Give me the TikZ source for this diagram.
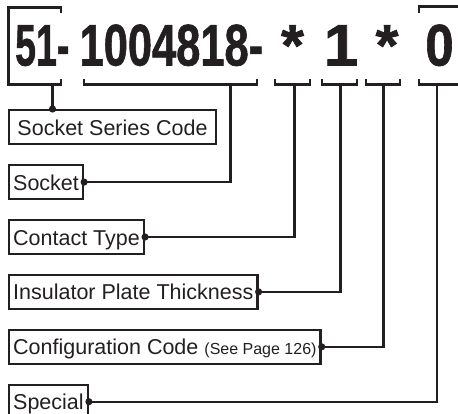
\documentclass[tikz,border=0pt]{standalone}
\usepackage{fontspec}
\setmainfont{Liberation Sans}
\newfontfamily\codefont{Liberation Sans}[BoldFeatures={FakeBold=1.2}]
\usetikzlibrary{positioning, arrows.meta}

\definecolor{ink}{RGB}{35,31,32}

\begin{document}
\begin{tikzpicture}[
    x=1pt, y=-1pt,
    labelbox/.style={
        draw=ink, line width=2.4pt, text=ink,
        anchor=north west,
        inner xsep=4pt, inner ysep=0pt,
        minimum height=34pt,
        text height=16pt, text depth=0pt,
        font=\fontsize{21.5}{24}\selectfont
    },
    digit/.style={inner sep=0pt, anchor=base, text=ink,
        font=\fontsize{58.7}{60}\codefont\bfseries},
    bracket/.style={draw=ink, line width=2.4pt},
    link/.style={draw=ink, line width=2.2pt,
        -{Circle[length=7pt]}, shorten >=-3.5pt}
]
\useasboundingbox (0,0) rectangle (458,413);

% --- Part number ---
\node[digit] (n51)   at (42.3,65.5)  {\scalebox{0.64}[1]{51-}};
\node[digit] (nbase) at (171.4,65.5) {\scalebox{0.74}[1]{1004818-}};
\node[digit] (nast1) at (292.5,65.5) {*};
\node[digit] (none)  at (341,65.5)   {\scalebox{1.05}[1]{1}};
\node[digit] (nast2) at (387,65.5)   {*};
\node[digit] (nzero) at (439.5,65.5) {\scalebox{0.87}[1]{0}};

% --- Brackets ---
\draw[bracket] (61,13) -- (61,7.5) -- (8.5,7.5) -- (8.5,84.5) -- (61,84.5) -- (61,79);
\foreach \l/\r in {84/257, 275/310, 322/357, 366/400}
    \draw[bracket] (\l,79) -- (\l,84.5) -- (\r,84.5) -- (\r,79);
\draw[bracket] (419,79) -- (419,84.5) -- (462,84.5);
\draw[bracket] (419,13) -- (419,6.5) -- (462,6.5);

\coordinate (b1) at (52.5,84.5);
\coordinate (b2) at (230.5,84.5);
\coordinate (b3) at (294.5,84.5);
\coordinate (b4) at (340.5,84.5);
\coordinate (b5) at (383.5,84.5);
\coordinate (b6) at (437,84.5);

% --- Labels ---
\node[labelbox, minimum width=206.6pt] (series) at (8,109) {Socket Series Code};
\node[labelbox, below=18.5pt of series.south west, anchor=north west] (socket) {Socket};
\node[labelbox, below=18.5pt of socket.south west, anchor=north west] (contact) {Contact Type};
\node[labelbox, below=18.5pt of contact.south west, anchor=north west] (plate) {Insulator Plate Thickness};
\node[labelbox, below=18.5pt of plate.south west, anchor=north west] (config)
    {Configuration Code {\fontsize{16}{18}\selectfont (See Page 126)}};
\node[labelbox, below=18.5pt of config.south west, anchor=north west] (special) {Special};

% --- Links ---
\draw[link] (b1) -- (b1 |- series.north);
\draw[link] (b2) |- (socket.east);
\draw[link] (b3) |- (contact.east);
\draw[link] (b4) |- (plate.east);
\draw[link] (b5) |- (config.east);
\draw[link] (b6) |- (special.east);

\end{tikzpicture}
\end{document}
